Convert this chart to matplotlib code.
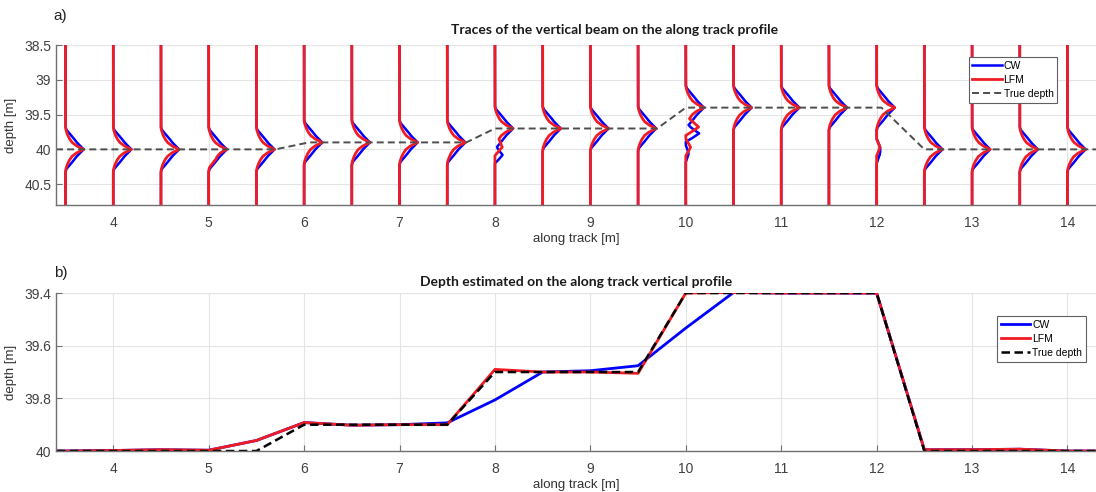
import numpy as np
import matplotlib
matplotlib.use("Agg")
import matplotlib.pyplot as plt

plt.rcParams['font.family'] = ['Liberation Sans', 'DejaVu Sans']

# ---- a) traces of the vertical beam ----
trace_x = [3.5, 4.0, 4.5, 5.0, 5.5, 6.0, 6.5, 7.0, 7.5, 8.0, 8.5,
           9.0, 9.5, 10.0, 10.5, 11.0, 11.5, 12.0, 12.5, 13.0, 13.5, 14.0]
trace_depth = [40.0, 40.0, 40.0, 40.0, 40.0, 39.9, 39.9, 39.9, 39.9, 39.7, 39.7,
               39.7, 39.7, 39.4, 39.4, 39.4, 39.4, 39.4, 40.0, 40.0, 40.0, 40.0]

# pulse shape around the main echo (depth offset -> amplitude along x)
pulse_offset = [-0.32, -0.28, -0.24, -0.20, -0.15, -0.10, -0.05, 0.0,
                0.05, 0.10, 0.15, 0.20, 0.24, 0.28, 0.32]
pulse_cw = [0.0, 0.01, 0.035, 0.06, 0.09, 0.118, 0.153, 0.19,
            0.153, 0.118, 0.09, 0.06, 0.035, 0.01, 0.0]
pulse_lfm = [0.0, 0.004, 0.013, 0.024, 0.042, 0.068, 0.115, 0.19,
             0.115, 0.068, 0.042, 0.024, 0.013, 0.004, 0.0]

# secondary echoes seen on a few traces
lobe_offset = [-0.12, -0.06, 0.0, 0.06, 0.12]
lobe_shape = [0.0, 0.55, 1.0, 0.55, 0.0]
lobe_trace = [5.0, 8.0, 8.0, 10.0, 10.0, 10.0, 10.0, 12.0, 12.0]
lobe_depth = [40.14, 39.97, 40.08, 39.68, 39.77, 39.97, 40.06, 39.97, 40.08]
lobe_cw = [0.0, 0.0, 0.08, 0.0, 0.14, 0.0, 0.03, 0.035, 0.03]
lobe_lfm = [0.03, 0.07, 0.0, 0.13, 0.0, 0.05, 0.0, 0.035, 0.0]

# true depth line as drawn in panel a)
true_a_x = [3.4, 5.7, 6.05, 7.7, 8.0, 9.7, 10.0, 12.05, 12.5, 14.3]
true_a_d = [40.0, 40.0, 39.9, 39.9, 39.7, 39.7, 39.4, 39.4, 40.0, 40.0]

# ---- b) estimated depth ----
pos = [3.0, 3.5, 4.0, 4.5, 5.0, 5.5, 6.0, 6.5, 7.0, 7.5, 8.0, 8.5, 9.0,
       9.5, 10.0, 10.5, 11.0, 11.5, 12.0, 12.5, 13.0, 13.5, 14.0, 14.5]
true_depth = [40.0, 40.0, 40.0, 40.0, 40.0, 40.0, 39.9, 39.9, 39.9, 39.9, 39.7, 39.7, 39.7,
              39.7, 39.4, 39.4, 39.4, 39.4, 39.4, 40.0, 40.0, 40.0, 40.0, 40.0]
lfm_depth = [40.0, 40.0, 39.998, 39.995, 39.997, 39.96, 39.892, 39.902, 39.9, 39.9, 39.69, 39.7, 39.7,
             39.705, 39.4, 39.398, 39.4, 39.4, 39.4, 39.995, 39.995, 39.993, 40.0, 40.0]
cw_depth = [40.0, 40.0, 39.998, 39.995, 39.997, 39.96, 39.892, 39.902, 39.9, 39.893, 39.806, 39.7, 39.695,
            39.676, 39.533, 39.398, 39.4, 39.4, 39.4, 39.995, 39.995, 39.993, 40.0, 40.0]

BLUE = '#0000ff'
RED = '#f01c24'
TICKC = '#404040'


def style_axes(ax):
    for s in ['top', 'right']:
        ax.spines[s].set_visible(False)
    for s in ['left', 'bottom']:
        ax.spines[s].set_color('#707070')
        ax.spines[s].set_linewidth(1.0)
    ax.tick_params(direction='in', length=4, color='#707070', labelcolor=TICKC,
                   labelsize=10)
    ax.tick_params(axis='x', pad=8)
    ax.grid(True, color='#e4e4e4', linewidth=0.8)
    ax.set_axisbelow(True)


fig = plt.figure(figsize=(10.96, 4.92), dpi=100)
ax1 = fig.add_axes([0.0511, 0.5833, 0.949, 0.3252])
ax2 = fig.add_axes([0.0511, 0.0833, 0.949, 0.3211])

# panel a
grid = np.linspace(38.4, 40.9, 1001)
for x0, d0 in zip(trace_x, trace_depth):
    cw = np.interp(grid, np.array(pulse_offset) + d0, pulse_cw)
    lfm = np.interp(grid, np.array(pulse_offset) + d0, pulse_lfm)
    for lx, ld, lc, ll in zip(lobe_trace, lobe_depth, lobe_cw, lobe_lfm):
        if lx == x0:
            sh = np.interp(grid, np.array(lobe_offset) + ld, lobe_shape)
            cw = cw + lc * sh
            lfm = lfm + ll * sh
    l_cw, = ax1.plot(x0 + cw, grid, color=BLUE, lw=1.8)
    l_lfm, = ax1.plot(x0 + lfm, grid, color=RED, lw=2.0)
l_true, = ax1.plot(true_a_x, true_a_d, color='#4d4d4d', lw=1.4, dashes=(3.6, 2.1))
ax1.set_xlim(3.4, 14.3)
ax1.set_ylim(40.8, 38.5)
ax1.set_xticks(range(4, 15))
ax1.set_yticks([38.5, 39, 39.5, 40, 40.5])
ax1.set_yticklabels(['38.5', '39', '39.5', '40', '40.5'])
style_axes(ax1)
ax1.set_xlabel('along track [m]', fontsize=9.5, color='#333333', labelpad=2)
ax1.set_ylabel('depth [m]', fontsize=9.5, color='#333333')
ax1.yaxis.set_label_coords(-0.0375, 0.5)
ax1.text(0.5375, 1.095, 'Traces of the vertical beam on the along track profile',
         transform=ax1.transAxes, ha='center', va='center', fontsize=10,
         fontweight='bold', family='Lato', color='#1a1a1a')
leg1 = ax1.legend([l_cw, l_lfm, l_true], ['CW', 'LFM', 'True depth'],
                  loc='upper right', bbox_to_anchor=(0.9625, 0.925), fontsize=7.5,
                  frameon=True, fancybox=False, edgecolor='#606060', framealpha=1,
                  handlelength=2.8, handletextpad=0.2, labelspacing=0.4,
                  borderpad=0.35, borderaxespad=0)
leg1.get_frame().set_linewidth(0.8)

# panel b
ax2.plot(pos, cw_depth, color=BLUE, lw=2.0, label='CW')
ax2.plot(pos, lfm_depth, color=RED, lw=2.0, label='LFM')
ax2.plot(pos, true_depth, color='black', lw=1.8, dashes=(3.4, 1.8), label='True depth')
ax2.set_xlim(3.4, 14.3)
ax2.set_ylim(40.0, 39.4)
ax2.set_xticks(range(4, 15))
ax2.set_yticks([39.4, 39.6, 39.8, 40.0])
ax2.set_yticklabels(['39.4', '39.6', '39.8', '40'])
style_axes(ax2)
ax2.set_xlabel('along track [m]', fontsize=9.5, color='#333333', labelpad=2)
ax2.set_ylabel('depth [m]', fontsize=9.5, color='#333333')
ax2.yaxis.set_label_coords(-0.0375, 0.5)
ax2.text(0.5, 1.07, 'Depth estimated on the along track vertical profile',
         transform=ax2.transAxes, ha='center', va='center', fontsize=10,
         fontweight='bold', family='Lato', color='#1a1a1a')
leg2 = ax2.legend(loc='upper right', bbox_to_anchor=(0.99, 0.854), fontsize=7.5,
                  frameon=True, fancybox=False, edgecolor='#606060', framealpha=1,
                  handlelength=2.8, handletextpad=0.2, labelspacing=0.4,
                  borderpad=0.35, borderaxespad=0)
leg2.get_frame().set_linewidth(0.8)

fig.text(0.049, 0.967, 'a)', fontsize=11, color='#222222', va='center')
fig.text(0.049, 0.445, 'b)', fontsize=11, color='#222222', va='center')

fig.savefig('out.png', dpi=100)
